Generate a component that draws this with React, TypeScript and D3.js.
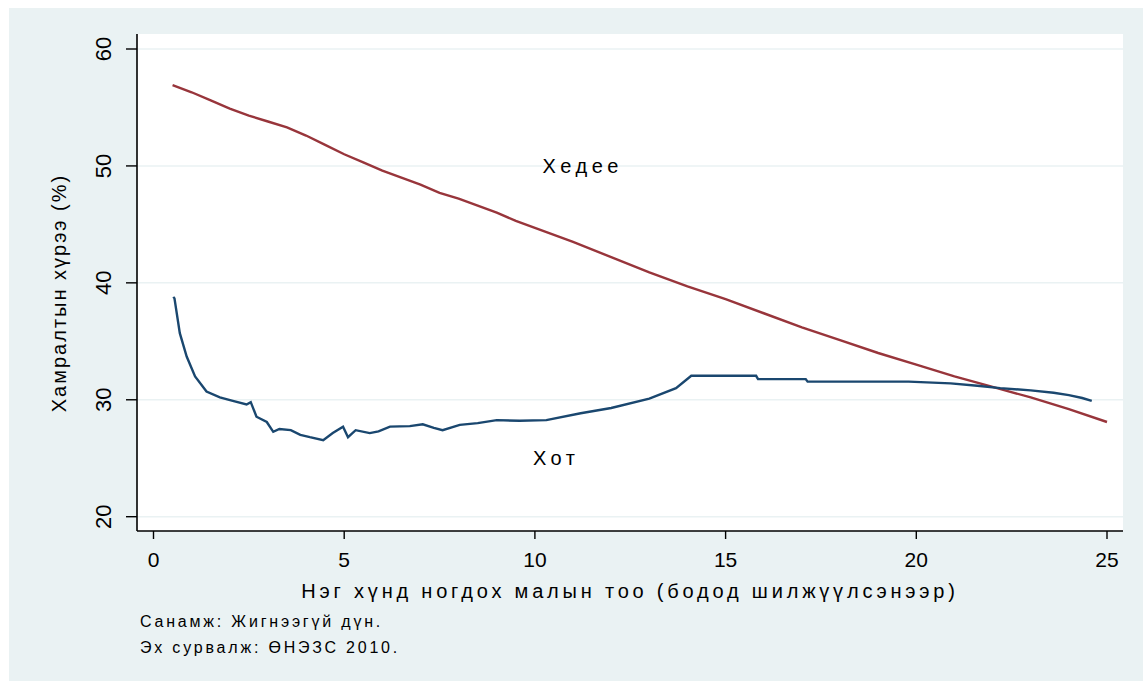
import React from "react";
import * as d3 from "d3";

// Хедее (rural) lowess curve: [малын тоо, хамралт %]
const ruralX = [0.5, 1, 1.5, 2, 2.5, 3, 3.5, 4, 4.5, 5, 5.5, 6, 6.5, 7, 7.5, 8, 8.5, 9, 9.5, 10, 11, 12, 13, 14, 15, 16, 17, 18, 19, 20, 21, 22, 23, 24, 25];
const ruralY = [56.9, 56.3, 55.6, 54.9, 54.3, 53.8, 53.3, 52.6, 51.8, 51.0, 50.3, 49.6, 49.0, 48.4, 47.7, 47.2, 46.6, 46.0, 45.3, 44.7, 43.5, 42.2, 40.9, 39.7, 38.6, 37.4, 36.2, 35.1, 34.0, 33.0, 32.0, 31.1, 30.2, 29.2, 28.1];

// Хот (urban) lowess curve
const urbanX = [0.52, 0.55, 0.69, 0.87, 1.09, 1.39, 1.74, 2.08, 2.44, 2.55, 2.7, 2.97, 3.14, 3.3, 3.6, 3.85, 4.1, 4.45, 4.7, 4.97, 5.1, 5.3, 5.67, 5.9, 6.2, 6.72, 7.06, 7.35, 7.58, 8.03, 8.5, 9.0, 9.6, 10.3, 11.2, 12.0, 13.0, 13.7, 14.1, 15.8, 15.85, 17.1, 17.15, 19.8, 20.9, 21.6, 22.2, 23.0, 23.6, 24.0, 24.35, 24.6];
const urbanY = [38.8, 38.67, 35.7, 33.7, 32.0, 30.7, 30.2, 29.9, 29.6, 29.8, 28.55, 28.1, 27.26, 27.5, 27.4, 27.0, 26.8, 26.55, 27.15, 27.7, 26.8, 27.4, 27.15, 27.3, 27.7, 27.75, 27.9, 27.6, 27.4, 27.85, 28.0, 28.26, 28.2, 28.26, 28.85, 29.3, 30.1, 31.0, 32.05, 32.05, 31.77, 31.77, 31.55, 31.55, 31.4, 31.2, 31.0, 30.8, 30.6, 30.4, 30.15, 29.9];

const xTicks = [0, 5, 10, 15, 20, 25];
const yTicks = [20, 30, 40, 50, 60];

const xTitle = "Нэг хүнд ногдох малын тоо (бодод шилжүүлсэнээр)";
const yTitle = "Хамралтын хүрээ (%)";
const notes = ["Санамж: Жигнээгүй дүн.", "Эх сурвалж: ӨНЭЗС 2010."];

const W = 1143;
const H = 681;
const bg = "#eaf2f3";
const font = "'Liberation Sans', Arial, sans-serif";

export default function App() {
  const plot = { left: 137, right: 1123, top: 34, bottom: 531 };
  const x = d3.scaleLinear().domain([0, 25]).range([153.5, 1107]);
  const y = d3.scaleLinear().domain([20, 60]).range([516.7, 49]);

  const line = d3
    .line<[number, number]>()
    .x(d => x(d[0]))
    .y(d => y(d[1]));

  const rural = ruralX.map((v, i) => [v, ruralY[i]] as [number, number]);
  const urban = urbanX.map((v, i) => [v, urbanY[i]] as [number, number]);

  return (
    <svg
      width={W}
      height={H}
      style={{ position: "absolute", left: 0, top: 0, background: "#fff" }}
      fontFamily={font}
    >
      <rect x={9} y={8} width={W - 9} height={H - 8} fill={bg} />
      <rect x={plot.left} y={plot.top} width={plot.right - plot.left} height={plot.bottom - plot.top} fill="#fff" />

      {/* gridlines */}
      {yTicks.map(t => (
        <line key={"g" + t} x1={plot.left} x2={plot.right} y1={y(t)} y2={y(t)} stroke={bg} strokeWidth={1.5} />
      ))}

      {/* lines */}
      <path d={line(rural) || ""} fill="none" stroke="#98353b" strokeWidth={2.4} />
      <path d={line(urban) || ""} fill="none" stroke="#1a476f" strokeWidth={2.4} />

      {/* in-plot labels */}
      <text x={x(10.2)} y={y(50)} dy="0.35em" fontSize={20} letterSpacing={4.5} fill="#000">Хедее</text>
      <text x={x(9.95)} y={y(25)} dy="0.35em" fontSize={20} letterSpacing={4.5} fill="#000">Хот</text>

      {/* axes */}
      <line x1={plot.left} x2={plot.left} y1={plot.top} y2={plot.bottom} stroke="#000" strokeWidth={1.6} />
      <line x1={plot.left} x2={plot.right} y1={plot.bottom} y2={plot.bottom} stroke="#000" strokeWidth={1.6} />

      {yTicks.map(t => (
        <g key={"y" + t}>
          <line x1={plot.left - 11} x2={plot.left} y1={y(t)} y2={y(t)} stroke="#000" strokeWidth={1.4} />
          <text
            transform={`translate(${111},${y(t)}) rotate(-90)`}
            textAnchor="middle"
            fontSize={22}
            fill="#000"
          >
            {t}
          </text>
        </g>
      ))}

      {xTicks.map(t => (
        <g key={"x" + t}>
          <line x1={x(t)} x2={x(t)} y1={plot.bottom} y2={plot.bottom + 8} stroke="#000" strokeWidth={1.4} />
          <text x={x(t)} y={567} textAnchor="middle" fontSize={21} fill="#000">
            {t}
          </text>
        </g>
      ))}

      {/* axis titles */}
      <text x={630} y={598} textAnchor="middle" fontSize={20} letterSpacing={3.8} fill="#000">
        {xTitle}
      </text>
      <text
        transform={`translate(${66},${293}) rotate(-90)`}
        textAnchor="middle"
        fontSize={20}
        letterSpacing={2}
        fill="#000"
      >
        {yTitle}
      </text>

      {/* notes */}
      {notes.map((n, i) => (
        <text key={n} x={140} y={627 + i * 26} fontSize={16} letterSpacing={2.8} fill="#000">
          {n}
        </text>
      ))}
    </svg>
  );
}
